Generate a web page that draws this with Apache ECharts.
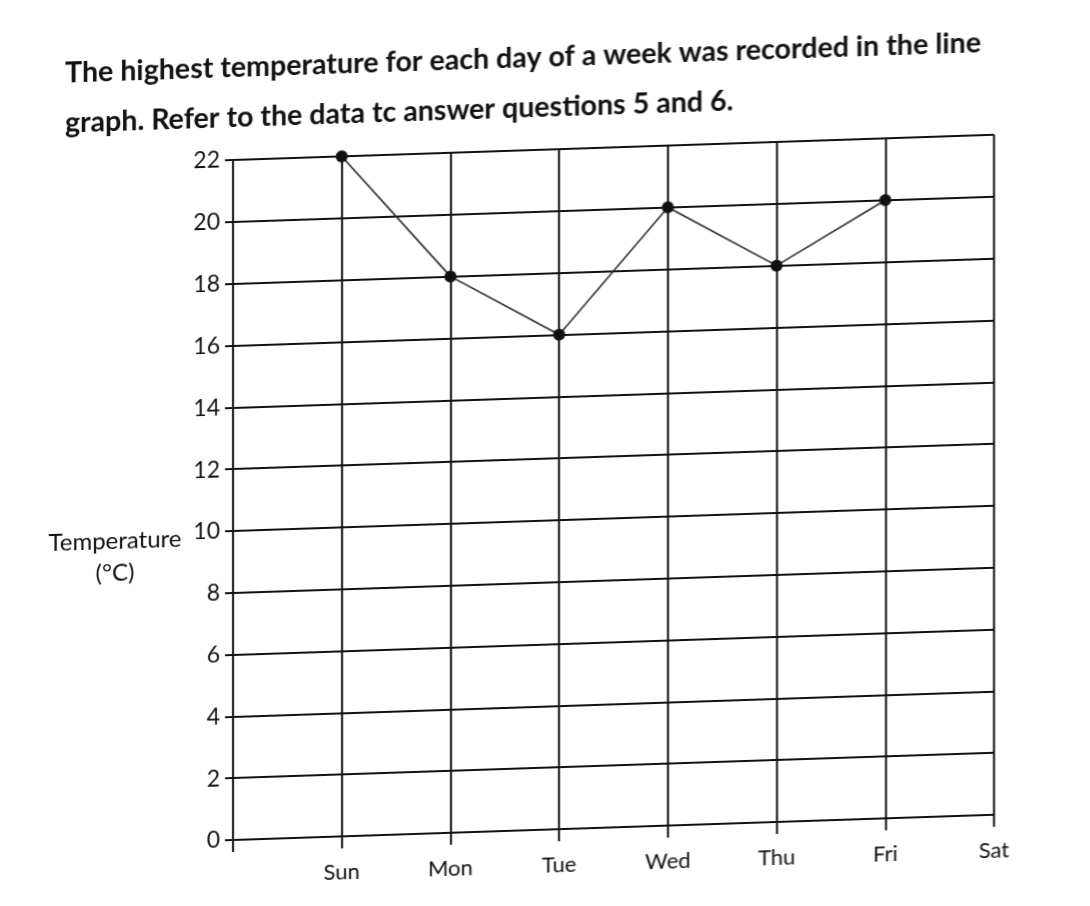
<!DOCTYPE html>
<html>
<head>
<meta charset="utf-8">
<title>Highest temperature</title>
<script src="https://cdn.jsdelivr.net/npm/echarts@6.0.0/dist/echarts.min.js"></script>
<style>
  html, body { margin: 0; padding: 0; background: #fff; overflow: hidden; }
  /* the worksheet scan is a little skewed, so the whole sheet is too */
  #sheet {
    width: 1090px;
    height: 906px;
    transform: skewY(-1.9deg);
    transform-origin: 233px 160px;
  }
</style>
</head>
<body>
<div id="sheet"></div>
<script>
// first slot is blank so the y axis sits one step left of Sun
const days = ['', 'Sun', 'Mon', 'Tue', 'Wed', 'Thu', 'Fri', 'Sat'];
const highTemps = ['-', 22, 18, 16, 20, 18, 20, '-'];
const tempTicks = [0, 2, 4, 6, 8, 10, 12, 14, 16, 18, 20, 22];

const ink = '#111';
const font = 'Lato, "Open Sans", sans-serif';

const chart = echarts.init(document.getElementById('sheet'));

chart.setOption({
  backgroundColor: '#fff',
  animation: false,
  title: [
    {
      text: 'The highest temperature for each day of a week was recorded in the line\ngraph. Refer to the data tc answer questions 5 and 6.',
      left: 60,
      top: 38,
      textStyle: {
        fontFamily: font,
        fontSize: 28.6,
        fontWeight: 'bold',
        lineHeight: 50,
        color: '#111'
      }
    },
    {
      text: 'Temperature\n(°C)',
      left: 110,
      top: 516,
      textAlign: 'center',
      textStyle: {
        fontFamily: font,
        fontSize: 24,
        fontWeight: 'normal',
        lineHeight: 32,
        color: ink
      }
    }
  ],
  grid: {
    left: 233,
    right: 96,
    top: 160,
    bottom: 66,
    containLabel: false
  },
  xAxis: {
    type: 'category',
    data: days,
    boundaryGap: false,
    axisLine: {lineStyle: {color: ink, width: 2}},
    axisTick: {show: true, length: 12, lineStyle: {color: ink, width: 2}},
    splitLine: {show: true, lineStyle: {color: ink, width: 2}},
    axisLabel: {
      fontFamily: font,
      fontSize: 22,
      color: ink,
      margin: 25
    }
  },
  yAxis: {
    type: 'value',
    min: tempTicks[0],
    max: tempTicks[tempTicks.length - 1],
    interval: 2,
    axisLine: {show: true, lineStyle: {color: ink, width: 2}},
    axisTick: {show: true, length: 8, lineStyle: {color: ink, width: 2}},
    splitLine: {show: true, lineStyle: {color: ink, width: 2}},
    axisLabel: {
      fontFamily: font,
      fontSize: 23,
      color: ink,
      margin: 13
    }
  },
  series: [
    {
      name: 'Highest temperature',
      type: 'line',
      data: highTemps,
      symbol: 'circle',
      symbolSize: 12,
      itemStyle: {color: '#111'},
      lineStyle: {color: '#2a2a2a', width: 1.6}
    }
  ]
});
</script>
</body>
</html>
